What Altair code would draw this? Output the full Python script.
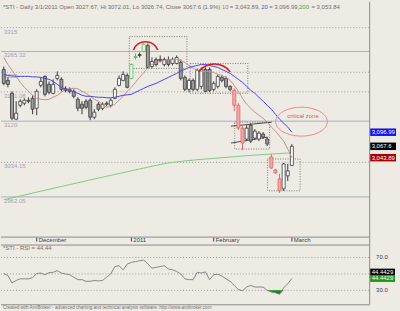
import math
import altair as alt
import pandas as pd

# ---------------- data ----------------
OPEN = [3227.9, 3205.1, 3178.1, 3124.2, 3153.2, 3157.4, 3163.6, 3167.7, 3147.0, 3194.7,
        3213.4, 3196.8, 3178.1, 3209.2, 3207.2, 3188.5, 3186.4, 3182.3, 3165.7, 3155.3,
        3161.5, 3163.6, 3128.3, 3155.3, 3147.0, 3157.4, 3153.2, 3167.7, 3194.7, 3205.1,
        3215.5, 3209.2, 3252.8, 3259.0, 3265.3, 3277.7, 3234.1, 3248.7, 3248.7, 3238.3,
        3248.7, 3240.4, 3240.4, 3242.4, 3211.3, 3186.4, 3205.1, 3186.4, 3192.6, 3227.9,
        3227.9, 3186.4, 3192.6, 3211.3, 3209.2, 3192.6, 3184.3, 3153.2, 3105.5, 3082.7,
        3111.7, 3084.7, 3082.7, 3093.0, 3082.7, 3045.3, 3018.3, 2999.7, 2978.9, 3005.9,
        3027.67]
HIGH = [3234.1, 3211.3, 3182.3, 3161.5, 3165.7, 3167.7, 3169.8, 3174.0, 3186.4, 3211.3,
        3215.5, 3203.0, 3207.2, 3223.8, 3211.3, 3192.6, 3190.6, 3186.4, 3169.8, 3161.5,
        3165.7, 3167.7, 3144.9, 3159.4, 3159.4, 3161.5, 3167.7, 3190.6, 3215.5, 3223.8,
        3219.6, 3240.4, 3261.1, 3263.2, 3281.9, 3281.9, 3252.8, 3252.8, 3257.0, 3252.8,
        3254.9, 3252.8, 3257.0, 3248.7, 3215.5, 3209.2, 3209.2, 3230.0, 3232.1, 3232.1,
        3232.1, 3203.0, 3217.5, 3215.5, 3213.4, 3194.7, 3188.5, 3157.4, 3109.6, 3111.7,
        3115.9, 3103.4, 3099.3, 3097.2, 3086.8, 3051.5, 3020.4, 3010.0, 3032.9, 3030.8,
        3072.01]
LOW = [3194.7, 3190.6, 3122.1, 3122.1, 3149.1, 3153.2, 3157.4, 3134.5, 3132.5, 3190.6,
       3171.9, 3176.0, 3176.0, 3205.1, 3182.3, 3180.2, 3178.1, 3167.7, 3140.8, 3134.5,
       3144.9, 3122.1, 3124.2, 3140.8, 3142.8, 3151.1, 3149.1, 3165.7, 3192.6, 3203.0,
       3188.5, 3207.2, 3248.7, 3252.8, 3263.2, 3230.0, 3230.0, 3234.1, 3242.4, 3234.1,
       3234.1, 3236.2, 3238.3, 3205.1, 3182.3, 3180.2, 3182.3, 3182.3, 3186.4, 3180.2,
       3180.2, 3182.3, 3188.5, 3200.9, 3188.5, 3182.3, 3140.8, 3101.3, 3059.8, 3078.5,
       3074.4, 3080.6, 3078.5, 3082.7, 3068.1, 3020.4, 3010.0, 2970.6, 2974.8, 2995.5,
       3026.74]
CLOSE = [3198.9, 3196.8, 3126.2, 3136.6, 3161.5, 3163.6, 3161.5, 3144.9, 3182.3, 3203.0,
         3176.0, 3180.2, 3196.8, 3215.5, 3186.4, 3184.3, 3182.3, 3171.9, 3147.0, 3147.0,
         3149.1, 3128.3, 3138.7, 3144.9, 3155.3, 3155.3, 3163.6, 3186.4, 3209.2, 3217.5,
         3190.6, 3238.3, 3254.9, 3257.0, 3279.8, 3232.1, 3244.5, 3238.3, 3246.6, 3248.7,
         3238.3, 3248.7, 3252.8, 3209.2, 3186.4, 3205.1, 3186.4, 3225.8, 3227.9, 3182.3,
         3184.3, 3198.9, 3213.4, 3205.1, 3192.6, 3186.4, 3153.2, 3105.5, 3074.4, 3105.5,
         3078.5, 3099.3, 3095.1, 3086.8, 3072.3, 3022.5, 3012.1, 2974.8, 3030.8, 3016.3,
         3067.6]
# candle style: u = up (white), d = down (grey), p = pink, g = green outline
KIND = list("ddduuudduu" "dduudddddd" "ddududuuuu" "dggdgduddu" "duudduduud"
            "duudddpppu" "duuddpppuu" "u")

MA10 = [3252.8, 3238.3, 3225.8, 3213.4, 3200.9, 3190.6, 3182.3, 3174.0, 3167.7, 3165.7,
        3164.6, 3165.7, 3169.8, 3174.0, 3180.2, 3186.4, 3187.4, 3188.5, 3187.4, 3182.3,
        3178.1, 3171.9, 3165.7, 3161.5, 3155.3, 3149.1, 3150.1, 3155.3, 3163.6, 3171.9,
        3182.3, 3190.6, 3200.9, 3211.3, 3221.7, 3230.0, 3238.3, 3242.4, 3244.5, 3246.6,
        3248.7, 3248.7, 3248.7, 3246.6, 3242.4, 3236.2, 3230.0, 3225.8, 3223.8, 3223.8,
        3223.8, 3221.7, 3217.5, 3215.5, 3211.3, 3205.1, 3194.7, 3182.3, 3167.7, 3155.3,
        3147.0, 3138.7, 3132.5, 3126.2, 3117.9, 3107.6, 3099.3, 3088.9, 3078.5, 3061.9,
        3043.89]
MA20 = [3217.5, 3215.5, 3214.4, 3213.4, 3213.4, 3213.4, 3213.4, 3212.3, 3212.3, 3211.3,
        3209.2, 3207.2, 3203.0, 3196.8, 3190.6, 3186.4, 3184.3, 3181.2, 3178.1, 3174.0,
        3171.9, 3171.9, 3170.8, 3169.8, 3169.8, 3168.8, 3168.8, 3169.8, 3171.9, 3174.0,
        3175.0, 3176.0, 3180.2, 3184.3, 3188.5, 3192.6, 3195.7, 3198.9, 3203.0, 3207.2,
        3211.3, 3215.5, 3219.6, 3224.8, 3227.9, 3232.1, 3234.1, 3236.2, 3238.3, 3238.3,
        3236.2, 3234.1, 3232.1, 3227.9, 3223.8, 3219.6, 3213.4, 3207.2, 3200.9, 3192.6,
        3184.3, 3178.1, 3169.8, 3161.5, 3153.2, 3144.9, 3134.5, 3124.2, 3115.9, 3107.6,
        3096.99]
MA200 = [2956.1, 2958.0, 2960.0, 2962.0, 2964.0, 2966.0, 2968.0, 2970.0, 2972.0, 2974.0,
         2976.0, 2977.9, 2979.9, 2981.8, 2983.8, 2985.7, 2987.7, 2989.6, 2991.6, 2993.5,
         2995.5, 2997.4, 2999.4, 3001.3, 3003.2, 3005.1, 3007.0, 3008.9, 3010.8, 3012.7,
         3014.6, 3016.5, 3018.4, 3020.3, 3022.2, 3024.1, 3026.0, 3027.8, 3029.6, 3031.3,
         3032.8, 3034.0, 3035.1, 3036.1, 3037.0, 3037.9, 3038.7, 3039.5, 3040.3, 3041.0,
         3041.7, 3042.4, 3043.1, 3043.8, 3044.5, 3045.2, 3045.9, 3046.6, 3047.3, 3048.0,
         3048.6, 3049.2, 3049.8, 3050.4, 3051.0, 3051.5, 3052.0, 3052.5, 3053.0, 3053.4,
         3053.84]
RSI = [50.5, 48, 39, 42, 44, 44, 44, 45.5, 50.5, 51,
       49, 51.5, 52, 54, 51, 50, 49, 46, 43, 43,
       41, 41, 42, 41.5, 42, 46, 50, 59, 60, 55,
       62, 64, 65, 66, 67, 62, 57, 58, 59, 60,
       56, 55, 53, 50, 44, 43, 43, 52, 51, 52.5,
       43, 49, 49.5, 47.5, 44, 41, 36, 31, 29.5, 34,
       36, 34, 34, 34, 30, 28, 27, 25.2, 33, 38, 44.4429]

LEVELS = [3265.32, 3120.0, 2962.05, 3315.0, 3222.0, 3181.08, 3034.15]
LEVEL_LABELS = ["3265.32", "3120", "2962.05", "3315", "3222", "3181.08", "3034.15"]
LEVEL_STYLE = ["solid", "solid", "solid", "dot", "dot", "dot", "dot"]

MONTH_IDX = [8, 31, 51, 70]
MONTH_LABELS = ["December", "2011", "February", "March"]

BOX_I0 = [30.5, 45.3, 56.1, 64.1]
BOX_I1 = [44.5, 59.3, 64.6, 72.0]
BOX_P0 = [3296.4, 3240.4, 3117.9, 3041.2]
BOX_P1 = [3230.0, 3178.1, 3061.9, 2974.8]

FLAG_I0 = [55.2, 55.2]
FLAG_I1 = [65.1, 64.1]
FLAG_P0 = [3109.6, 3074.4]
FLAG_P1 = [3117.9, 3086.8]

ARC_I = [34.45, 51.18]
ARC_P = [3258.6, 3198.3]
ARC_R = [13.9, 20.6]
ARC_HALF = [1.207, 0.933]

ZONE_I, ZONE_P = 72.34, 3119.0
ZONE_TEXT_I, ZONE_TEXT_P = 72.7, 3131.8

RIGHT_VALUES = [3096.99, 3067.6, 3043.89]
RIGHT_TEXTS = ["3,096.99", "3,067.6", "3,043.89"]
RIGHT_COLORS = ["#1010f0", "#000000", "#a80000"]

RSI_LEVELS = [70, 50, 30]
RSI_LABEL_VALUES = [70, 30]
RSI_LABELS = ["70.0", "30.0"]
RSI_BOX_TEXT = "44.4429"

TITLE_SEGS = [
    ("*STI - Daily 3/1/2011 Open 3027.67, Hi 3072.01, Lo 3026.74, Close 3067.6 (1.9%)", "#707070", 2),
    ("10", "#b87a70", 222),
    ("= 3,043.89,", "#707070", 230),
    ("20", "#5050e8", 261.5),
    ("= 3,096.99,", "#707070", 269.5),
    ("200", "#40b040", 299.5),
    ("= 3,053.84", "#707070", 312),
]

# ---------------- styling ----------------
FONT = "Liberation Sans"
BG = "#eeeae4"
X0, X1 = -0.677, 96.03
P0, P1 = 2862.7, 3369.0
R0, R1 = 4.55, 85.76
XS = alt.Scale(domain=[X0, X1], nice=False, zero=False, padding=0)
PS = alt.Scale(domain=[P0, P1], nice=False, zero=False, padding=0)
RS = alt.Scale(domain=[R0, R1], nice=False, zero=False, padding=0)


def X(f):
    return alt.X(f"{f}:Q", scale=XS, axis=None)


def PY(f):
    return alt.Y(f"{f}:Q", scale=PS, axis=None)


def RY(f):
    return alt.Y(f"{f}:Q", scale=RS, axis=None)


N = len(CLOSE)
idx = list(range(N))
candles = pd.DataFrame({"i": idx, "open": OPEN, "high": HIGH, "low": LOW,
                        "close": CLOSE, "kind": KIND})
ma = pd.DataFrame({"i": idx, "ma10": MA10, "ma20": MA20, "ma200": MA200})
rsi = pd.DataFrame({"i": idx, "rsi": RSI})
lev = pd.DataFrame({"level": LEVELS, "label": LEVEL_LABELS, "style": LEVEL_STYLE})
months = pd.DataFrame({"i": MONTH_IDX, "label": MONTH_LABELS})
boxes = pd.DataFrame({"i0": BOX_I0, "i1": BOX_I1, "p0": BOX_P0, "p1": BOX_P1})
flags = pd.DataFrame({"i0": FLAG_I0, "i1": FLAG_I1, "p0": FLAG_P0, "p1": FLAG_P1})
one = pd.DataFrame({"a": [0]})

KIND_DOM = ["u", "d", "p", "g"]
FILL = alt.Scale(domain=KIND_DOM, range=["#ffffff", "#9c9c9c", "#f4a8a8", "#ffffff"])
STROKE = alt.Scale(domain=KIND_DOM, range=["#3a3a3a", "#3a3a3a", "#e06868", "#50b850"])

layers = []
layers.append(alt.Chart(lev).transform_filter("datum.style == 'solid'").mark_rule(
    color="#a7b1c6", strokeWidth=1).encode(y=PY("level"), x=alt.value(0), x2=alt.value(370)))
layers.append(alt.Chart(lev).transform_filter("datum.style == 'dot'").mark_rule(
    color="#a0a0a0", strokeWidth=1, strokeDash=[1, 2]).encode(
    y=PY("level"), x=alt.value(0), x2=alt.value(370)))
layers.append(alt.Chart(lev).mark_text(
    align="left", baseline="top", dy=1, fontSize=6, font=FONT, color="#a2a2b4").encode(
    x=alt.value(3), y=PY("level"), text="label:N"))
layers.append(alt.Chart(ma).mark_line(color="#7ccc7c", strokeWidth=1).encode(
    x=X("i"), y=PY("ma200")))
layers.append(alt.Chart(boxes).mark_rect(
    fill="#ffffff", fillOpacity=0, stroke="#606060", strokeDash=[1, 1.5], strokeWidth=0.8).encode(
    x=X("i0"), x2=alt.X2("i1"), y=PY("p0"), y2=alt.Y2("p1")))
layers.append(alt.Chart(flags).mark_rule(color="#202020", strokeWidth=0.8).encode(
    x=X("i0"), x2=alt.X2("i1"), y=PY("p0"), y2=alt.Y2("p1")))
layers.append(alt.Chart(candles).mark_rule(strokeWidth=1).encode(
    x=X("i"), y=PY("low"), y2=alt.Y2("high"),
    color=alt.Color("kind:N", scale=STROKE, legend=None)))
layers.append(alt.Chart(candles).mark_bar(size=3, strokeWidth=0.8).encode(
    x=X("i"), y=PY("open"), y2=alt.Y2("close"),
    fill=alt.Fill("kind:N", scale=FILL, legend=None),
    stroke=alt.Stroke("kind:N", scale=STROKE, legend=None)))
layers.append(alt.Chart(ma).mark_line(color="#c4908a", strokeWidth=1).encode(
    x=X("i"), y=PY("ma10")))
layers.append(alt.Chart(ma).mark_line(color="#4646f0", strokeWidth=1).encode(
    x=X("i"), y=PY("ma20")))
for k in range(len(ARC_I)):
    d = pd.DataFrame({"i": [ARC_I[k]], "p": [ARC_P[k]]})
    layers.append(alt.Chart(d).mark_arc(
        theta=2 * math.pi - ARC_HALF[k], theta2=2 * math.pi + ARC_HALF[k],
        radius=ARC_R[k], radius2=ARC_R[k] - 1.6, color="#e01818").encode(
        x=X("i"), y=PY("p")))
ELLIPSE = ("M -1 0 C -1 -0.308 -0.552 -0.558 0 -0.558 C 0.552 -0.558 1 -0.308 1 0 "
           "C 1 0.308 0.552 0.558 0 0.558 C -0.552 0.558 -1 0.308 -1 0 Z")
layers.append(alt.Chart(pd.DataFrame({"i": [ZONE_I], "p": [ZONE_P]})).mark_point(
    shape=ELLIPSE, size=2704, filled=False, color="#f08888", strokeWidth=1, opacity=1).encode(
    x=X("i"), y=PY("p")))
layers.append(alt.Chart(pd.DataFrame({"i": [ZONE_TEXT_I], "p": [ZONE_TEXT_P]})).mark_text(
    text="critical zone", fontSize=6, font=FONT, color="#e05a5a").encode(
    x=X("i"), y=PY("p")))
for t, c, px in TITLE_SEGS:
    layers.append(alt.Chart(one).mark_text(
        text=t, align="left", baseline="middle", fontSize=6, font=FONT, color=c).encode(
        x=alt.value(px), y=alt.value(5)))
for v, t, c in zip(RIGHT_VALUES, RIGHT_TEXTS, RIGHT_COLORS):
    d = pd.DataFrame({"v": [v]})
    layers.append(alt.Chart(d).mark_rule(color=c, strokeWidth=7.5).encode(
        x=alt.value(371), x2=alt.value(397), y=PY("v")))
    layers.append(alt.Chart(d).mark_text(
        text=t, align="left", baseline="middle", fontSize=6, font=FONT, color="#ffffff").encode(
        x=alt.value(372.5), y=PY("v")))
# panel frame and date axis
layers.append(alt.Chart(one).mark_rule(color="#8c8c8c", strokeWidth=1).encode(
    x=alt.value(0), x2=alt.value(370.5), y=alt.value(236.5)))
layers.append(alt.Chart(one).mark_rule(color="#8c8c8c", strokeWidth=1).encode(
    x=alt.value(370.5), y=alt.value(0), y2=alt.value(244)))
layers.append(alt.Chart(months).mark_rule(color="#404040", strokeWidth=1).encode(
    x=X("i"), y=alt.value(237), y2=alt.value(241)))
layers.append(alt.Chart(months).mark_text(
    align="left", baseline="middle", dx=2, fontSize=6, font=FONT, color="#404040").encode(
    x=X("i"), y=alt.value(239.8), text="label:N"))

top = alt.layer(*layers).properties(width=400, height=244)

rl = pd.DataFrame({"v": RSI_LEVELS})
rlab = pd.DataFrame({"v": RSI_LABEL_VALUES, "label": RSI_LABELS})
rlayers = [
    alt.Chart(rl).mark_rule(color="#a0a0a0", strokeWidth=1, strokeDash=[1, 2]).encode(
        y=RY("v"), x=alt.value(0), x2=alt.value(370)),
    alt.Chart(rsi).transform_filter("datum.i >= 63 && datum.i <= 68").transform_calculate(
        lo="min(datum.rsi, 30)", th="30").mark_area(color="#138a13").encode(
        x=X("i"), y=RY("lo"), y2=alt.Y2("th")),
    alt.Chart(rsi).mark_line(color="#7c7c7c", strokeWidth=0.9).encode(
        x=X("i"), y=RY("rsi")),
    alt.Chart(rlab).mark_text(align="left", baseline="middle", fontSize=6, font=FONT,
                              color="#404040").encode(
        x=alt.value(377), y=RY("v"), text="label:N"),
    alt.Chart(one).mark_rule(color="#000000", strokeWidth=7).encode(
        x=alt.value(371), x2=alt.value(396), y=alt.value(27.7)),
    alt.Chart(one).mark_text(text=RSI_BOX_TEXT, align="left", baseline="middle", fontSize=6,
                             font=FONT, color="#ffffff").encode(
        x=alt.value(372.5), y=alt.value(27.7)),
    alt.Chart(rsi.tail(1)).mark_rule(color="#1c9a1c", strokeWidth=7).encode(
        x=alt.value(371), x2=alt.value(396), y=RY("rsi")),
    alt.Chart(rsi.tail(1)).mark_text(text=RSI_BOX_TEXT, align="left", baseline="middle",
                                     fontSize=6, font=FONT, color="#ffffff").encode(
        x=alt.value(372.5), y=RY("rsi")),
    alt.Chart(one).mark_text(text="*STI - RSI = 44.44", align="left", baseline="middle",
                             fontSize=6, font=FONT, color="#707070").encode(
        x=alt.value(2), y=alt.value(3)),
    alt.Chart(one).mark_rule(color="#8c8c8c", strokeWidth=1).encode(
        x=alt.value(0), x2=alt.value(370.5), y=alt.value(0.5)),
    alt.Chart(one).mark_rule(color="#8c8c8c", strokeWidth=1).encode(
        x=alt.value(0), x2=alt.value(370.5), y=alt.value(60.5)),
    alt.Chart(one).mark_rule(color="#8c8c8c", strokeWidth=1).encode(
        x=alt.value(370.5), y=alt.value(0), y2=alt.value(60.5)),
    alt.Chart(one).mark_text(
        text="Created with AmiBroker - advanced charting and technical analysis software. http://www.amibroker.com",
        align="left", baseline="middle", fontSize=4.6, font=FONT, color="#707070").encode(
        x=alt.value(2), y=alt.value(64)),
]
bottom = alt.layer(*rlayers).properties(width=400, height=67)

chart = alt.vconcat(top, bottom, spacing=0, bounds="flush").properties(
    padding=0, background=BG).configure_view(strokeWidth=0)

chart.save("out.html", embed_options={"renderer": "svg", "actions": False})
